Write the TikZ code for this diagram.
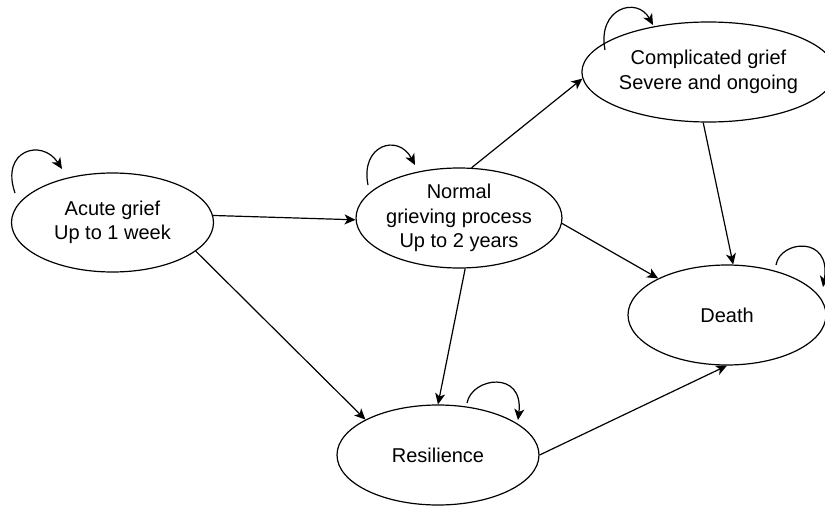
\documentclass[tikz,border=0pt]{standalone}
\usepackage{fontspec}
\setmainfont{Liberation Sans}
\usetikzlibrary{arrows.meta,shapes.geometric}
\begin{document}
\begin{tikzpicture}[x=1pt,y=-1pt,
  state/.style={ellipse,draw,line width=1.2pt,inner sep=0pt,align=center,
    font=\fontsize{20}{24.5}\selectfont},
  arr/.style={line width=1.2pt,-{Stealth[length=11pt,width=10pt,inset=3pt]}},
]
\useasboundingbox (0,0) rectangle (825,506);
\node[state,minimum width=202pt,minimum height=99pt] (acute) at (112.5,222.5) {Acute grief\\Up to 1 week};
\node[state,minimum width=202pt,minimum height=100pt] (normal) at (459,218) {Normal\\grieving process\\Up to 2 years};
\node[state,minimum width=202pt,minimum height=100pt] (comp) at (708.5,72) {Complicated grief\\Severe and ongoing};
\node[state,minimum width=198pt,minimum height=100pt] (death) at (727,315) {Death};
\node[state,minimum width=202pt,minimum height=100pt] (res) at (438,455) {Resilience};

\draw[arr] (acute.4) -- (normal.181);
\draw[arr] (acute.-19) -- (res.154);
\draw[arr] (normal.-83) -- (res.90);
\draw[arr] (normal.76) -- (comp.183);
\draw[arr] (comp.-96) -- (death.83);
\draw[arr] (normal.-3) -- (death.152);
\draw[arr] (res.0) -- (death.-90);

% self loops
\coordinate (a1) at (15,193);  \coordinate (a2) at (62,169);
\draw[arr] (a1) .. controls (0,150) and (42,138) .. (a2);
\coordinate (n1) at (368,185); \coordinate (n2) at (415,165);
\draw[arr] (n1) .. controls (360,145) and (398,133) .. (n2);
\coordinate (c1) at (605,50);  \coordinate (c2) at (653,25);
\draw[arr] (c1) .. controls (597,8) and (637,-4) .. (c2);
\coordinate (r1) at (467,403); \coordinate (r2) at (518,420);
\draw[arr] (r1) .. controls (472,377) and (524,370) .. (r2);
\coordinate (d1) at (776,265); \coordinate (d2) at (823,287);
\draw[arr] (d1) .. controls (780,240) and (832,235) .. (d2);
\end{tikzpicture}
\end{document}
